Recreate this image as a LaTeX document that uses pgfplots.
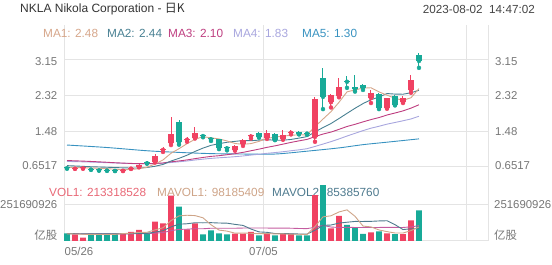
\documentclass[border=0pt]{standalone}
\usepackage{fontspec}
\setmainfont{Liberation Sans}
\newfontfamily\cjk{Noto Sans CJK SC}
\usepackage{pgfplots}
\pgfplotsset{compat=1.18}
\usepackage{pgfplotstable}

\definecolor{cred}{RGB}{240,66,98}
\definecolor{cteal}{RGB}{24,170,152}
\definecolor{ma1}{RGB}{214,166,138}
\definecolor{ma2}{RGB}{72,128,146}
\definecolor{ma3}{RGB}{190,62,128}
\definecolor{ma4}{RGB}{168,166,222}
\definecolor{ma5}{RGB}{56,146,192}
\definecolor{gridc}{RGB}{228,228,228}
\definecolor{labc}{RGB}{118,118,118}
\definecolor{vol1c}{RGB}{232,104,118}
\definecolor{mv1}{RGB}{206,164,136}
\definecolor{mv2}{RGB}{78,122,142}
\definecolor{mv3}{RGB}{196,92,160}

\newcommand\lab{\fontsize{11.4}{13}\selectfont}
\newcommand\leg{\fontsize{11.8}{14}\selectfont}

% red (up) candles: x open high low close
\pgfplotstableread{
x o h l c
1 0.600 0.632 0.596 0.624
2 0.606 0.634 0.600 0.630
7 0.550 0.580 0.545 0.574
8 0.600 0.630 0.595 0.625
9 0.640 0.705 0.632 0.690
11 0.762 0.940 0.745 0.905
12 1.040 1.107 0.992 1.068
13 1.203 1.816 1.155 1.413
15 1.279 1.346 1.231 1.308
16 1.327 1.576 1.308 1.442
21 1.040 1.145 1.021 1.135
22 1.183 1.308 1.135 1.270
23 1.356 1.413 1.308 1.380
25 1.317 1.509 1.298 1.432
27 1.298 1.509 1.279 1.394
28 1.442 1.519 1.404 1.466
31 1.346 2.285 1.231 2.237
33 2.160 2.361 2.036 2.333
34 2.304 2.725 2.275 2.515
38 2.256 2.448 2.141 2.381
40 2.026 2.266 2.007 2.256
42 2.160 2.294 2.141 2.256
43 2.448 2.802 2.381 2.678
}\redc

% teal (down) candles: x open high low close
\pgfplotstableread{
x o h l c
0 0.634 0.640 0.600 0.610
3 0.602 0.610 0.574 0.578
4 0.582 0.588 0.555 0.558
5 0.578 0.585 0.550 0.554
6 0.572 0.578 0.545 0.548
10 0.750 0.772 0.718 0.726
14 1.691 1.739 1.164 1.222
17 1.389 1.404 1.337 1.365
18 1.313 1.346 1.250 1.289
19 1.298 1.308 1.059 1.088
20 1.102 1.135 1.030 1.078
24 1.442 1.461 1.327 1.346
26 1.413 1.432 1.270 1.279
29 1.471 1.490 1.404 1.413
30 1.447 1.471 1.394 1.423
32 2.725 2.965 1.998 2.285
35 2.668 2.773 2.496 2.639
36 2.515 2.802 2.409 2.467
37 2.563 2.591 2.448 2.496
39 2.352 2.381 1.998 2.026
41 2.294 2.323 2.084 2.103
44 3.271 3.319 2.965 3.128
}\tealc

% moving averages MA1..MA4
\pgfplotstableread{
x a b c d
0 0.630 0.672 0.792 0.770
1 0.626 0.664 0.785 0.766
2 0.622 0.655 0.778 0.761
3 0.617 0.646 0.770 0.755
4 0.610 0.640 0.761 0.748
5 0.601 0.634 0.751 0.741
6 0.588 0.627 0.740 0.734
7 0.577 0.620 0.731 0.727
8 0.582 0.616 0.724 0.721
9 0.600 0.617 0.719 0.717
10 0.635 0.628 0.716 0.715
11 0.709 0.657 0.722 0.719
12 0.805 0.700 0.735 0.727
13 0.962 0.780 0.762 0.746
14 1.069 0.843 0.782 0.762
15 1.187 0.916 0.806 0.781
16 1.291 1.005 0.836 0.804
17 1.350 1.083 0.864 0.824
18 1.325 1.148 0.889 0.842
19 1.298 1.187 0.905 0.856
20 1.252 1.220 0.928 0.868
21 1.191 1.241 0.952 0.882
22 1.172 1.261 0.983 0.899
23 1.189 1.257 1.021 0.920
24 1.241 1.270 1.059 0.940
25 1.312 1.282 1.101 0.961
26 1.340 1.266 1.136 0.978
27 1.365 1.269 1.176 0.998
28 1.383 1.286 1.217 1.021
29 1.396 1.318 1.253 1.043
30 1.394 1.353 1.287 1.069
31 1.586 1.463 1.352 1.122
32 1.764 1.565 1.413 1.178
33 1.938 1.660 1.459 1.235
34 2.158 1.777 1.523 1.298
35 2.402 1.898 1.590 1.366
36 2.448 2.017 1.641 1.430
37 2.490 2.127 1.698 1.493
38 2.499 2.219 1.752 1.551
39 2.402 2.280 1.799 1.595
40 2.325 2.363 1.859 1.645
41 2.252 2.350 1.906 1.684
42 2.204 2.347 1.956 1.724
43 2.264 2.381 2.021 1.767
44 2.480 2.440 2.100 1.830
}\mas

% volumes (millions)
\pgfplotstableread{
x v
1 46
2 24
7 52
8 64
9 78
11 136
12 124
13 317
15 82
16 124
21 52
22 52
23 64
25 52
27 52
28 52
31 321
33 89
34 175
38 60
40 54
42 48
43 145
}\redv

\pgfplotstableread{
x v
0 54
3 52
4 52
5 52
6 52
10 59
14 241
17 47
18 74
19 54
20 47
24 40
26 40
29 40
30 40
32 391
35 112
36 96
37 50
39 68
41 48
44 213.3
}\tealv

\pgfplotstableread{
x a b c
0 50 52 52.2
1 49 51 51.8
2 47 50 50.2
3 46 50 50.1
4 45.6 50 49.9
5 45.2 50 49.8
6 46.4 50 49.6
7 52.0 51 49.5
8 54.4 52 49.9
9 59.6 52.6 51.1
10 61.0 53.1 51.3
11 77.8 62.1 55.3
12 92.2 72.1 58.8
13 142.8 98.6 71.9
14 175.4 117.5 81.2
15 180.0 120.5 82.5
16 177.6 127.7 86.0
17 162.2 127.2 85.6
18 113.6 128.2 89.3
19 76.2 125.8 89.2
20 69.2 124.6 88.9
21 54.8 116.2 89.2
22 55.8 109.0 90.6
23 53.8 83.7 91.2
24 51.0 63.6 90.6
25 52.0 60.6 90.6
26 49.6 52.2 90.0
27 49.6 52.7 90.0
28 47.2 50.5 89.4
29 47.2 49.1 87.5
30 44.8 48.4 86.5
31 101.0 75.3 95.8
32 168.8 109.2 109.1
33 176.2 111.7 97.7
34 203.2 125.2 94.4
35 217.6 131.2 95.9
36 172.6 136.8 94.5
37 104.4 136.6 94.7
38 98.6 137.4 94.0
39 77.2 140.2 94.7
40 65.6 141.6 95.0
41 56.0 114.3 94.8
42 55.6 80.0 94.6
43 72.6 85.6 98.7
44 98.2 85.4 107.3
}\mavol

\pgfplotsset{chartbase/.style={scale only axis, width=424pt, xmin=-0.375, xmax=52.625, hide axis, clip=false, anchor=south west}}

\begin{document}
\begin{tikzpicture}
\path[use as bounding box] (0,0) rectangle (552pt,265pt);

% header
\node[anchor=west, inner sep=0, text={rgb,255:red,51;green,51;blue,51}, font=\fontsize{12}{14}\selectfont] at (20pt,256pt) {NKLA Nikola Corporation - {\cjk 日K}};
\node[anchor=east, inner sep=0, text={rgb,255:red,68;green,68;blue,68}, font=\fontsize{11.7}{14}\selectfont] at (535pt,256pt) {2023-08-02\ \ 14:47:02};

% vertical grid lines
\draw[gridc, line width=1pt] (64pt,24pt) -- (64pt,240pt);
\draw[gridc, line width=1pt] (263pt,24pt) -- (263pt,240pt);
\draw[gridc, line width=1pt] (466pt,24pt) -- (466pt,240pt);
\draw[gridc, line width=1pt] (488pt,24pt) -- (488pt,240pt);

% MA legend
\node[anchor=west, inner sep=0, text=ma1, font=\leg] at (43pt,232pt) {MA1: 2.48};
\node[anchor=west, inner sep=0, text=ma2, font=\leg] at (107pt,232pt) {MA2: 2.44};
\node[anchor=west, inner sep=0, text=ma3, font=\leg] at (168pt,232pt) {MA3: 2.10};
\node[anchor=west, inner sep=0, text=ma4, font=\leg] at (233pt,232pt) {MA4: 1.83};
\node[anchor=west, inner sep=0, text=ma5, font=\leg] at (302pt,232pt) {MA5: 1.30};

% VOL legend
\node[anchor=west, inner sep=0, text=vol1c, font=\leg] at (49pt,73pt) {VOL1: 213318528};
\node[anchor=west, inner sep=0, text=mv1, font=\leg] at (157pt,73pt) {MAVOL1: 98185409};
\node[anchor=west, inner sep=0, text=mv2, font=\leg] at (272pt,73pt) {MAVOL2: 85385760};

% dates
\node[anchor=west, inner sep=0, text=labc, font=\lab] at (64.5pt,14pt) {05/26};
\node[anchor=center, inner sep=0, text=labc, font=\lab] at (263.5pt,14pt) {07/05};

% ---------- price panel ----------
\begin{axis}[chartbase, at={(64pt,87pt)}, height=153pt, ymin=0.3819, ymax=3.971]
\draw[gridc, line width=1pt] (axis cs:-0.375,0.6517) -- (axis cs:52.625,0.6517);
\draw[gridc, line width=1pt] (axis cs:-0.375,1.48) -- (axis cs:52.625,1.48);
\draw[gridc, line width=1pt] (axis cs:-0.375,2.32) -- (axis cs:52.625,2.32);
\draw[gridc, line width=1pt] (axis cs:-0.375,3.15) -- (axis cs:52.625,3.15);
\node[anchor=east, inner sep=0, text=labc, font=\lab, xshift=-6.5pt, yshift=-2pt] at (axis cs:-0.375,3.15) {3.15};
\node[anchor=east, inner sep=0, text=labc, font=\lab, xshift=-6.5pt] at (axis cs:-0.375,2.32) {2.32};
\node[anchor=east, inner sep=0, text=labc, font=\lab, xshift=-6.5pt] at (axis cs:-0.375,1.48) {1.48};
\node[anchor=east, inner sep=0, text=labc, font=\lab, xshift=-6.5pt, yshift=1pt] at (axis cs:-0.375,0.6517) {0.6517};
\node[anchor=west, inner sep=0, text=labc, font=\lab, xshift=7pt, yshift=-2pt] at (axis cs:52.625,3.15) {3.15};
\node[anchor=west, inner sep=0, text=labc, font=\lab, xshift=7pt] at (axis cs:52.625,2.32) {2.32};
\node[anchor=west, inner sep=0, text=labc, font=\lab, xshift=7pt] at (axis cs:52.625,1.48) {1.48};
\node[anchor=west, inner sep=0, text=labc, font=\lab, xshift=7pt, yshift=1pt] at (axis cs:52.625,0.6517) {0.6517};

% moving averages
\addplot[ma5, line width=0.9pt, smooth] coordinates {(0,1.155) (5,1.097) (10,1.021) (14,0.982) (18,0.954) (22,0.944) (26,0.944) (30,1.011) (34,1.088) (37,1.164) (40,1.222) (44,1.300)};
\addplot[ma4, line width=0.9pt] table[x=x,y=d] {\mas};
\addplot[ma3, line width=0.9pt] table[x=x,y=c] {\mas};
\addplot[ma2, line width=0.9pt] table[x=x,y=b] {\mas};
\addplot[ma1, line width=0.9pt] table[x=x,y=a] {\mas};

% candles: wicks
\addplot[cred, only marks, mark=none, error bars/.cd, y dir=plus, y explicit, error mark=none, error bar style={line width=1pt, color=cred}] table[x=x, y=l, y error plus expr=\thisrow{h}-\thisrow{l}] {\redc};
\addplot[cteal, only marks, mark=none, error bars/.cd, y dir=plus, y explicit, error mark=none, error bar style={line width=1pt, color=cteal}] table[x=x, y=l, y error plus expr=\thisrow{h}-\thisrow{l}] {\tealc};
% candles: bodies
\addplot[cred, only marks, mark=none, error bars/.cd, y dir=plus, y explicit, error mark=none, error bar style={line width=5.6pt, color=cred}] table[x=x, y=o, y error plus expr=\thisrow{c}-\thisrow{o}] {\redc};
\addplot[cteal, only marks, mark=none, error bars/.cd, y dir=plus, y explicit, error mark=none, error bar style={line width=5.6pt, color=cteal}] table[x=x, y=c, y error plus expr=\thisrow{o}-\thisrow{c}] {\tealc};
\end{axis}

% ---------- volume panel ----------
\begin{axis}[chartbase, at={(64pt,24pt)}, height=57pt, ymin=0, ymax=398.5]
\draw[gridc, line width=1pt] (axis cs:-0.375,251.690926) -- (axis cs:52.625,251.690926);
\draw[gridc, line width=1pt] (axis cs:-0.375,0) -- (axis cs:52.625,0);
\node[anchor=east, inner sep=0, text=labc, font=\lab, xshift=-6.5pt] at (axis cs:-0.375,251.690926) {251690926};
\node[anchor=west, inner sep=0, text=labc, font=\lab, xshift=6pt] at (axis cs:52.625,251.690926) {251690926};
\node[anchor=east, inner sep=0, text=labc, font=\lab, xshift=-6.5pt, yshift=6pt] at (axis cs:-0.375,0) {\cjk 亿股};
\node[anchor=west, inner sep=0, text=labc, font=\lab, xshift=6pt, yshift=6pt] at (axis cs:52.625,0) {\cjk 亿股};

\addplot[ybar, bar width=5.6pt, bar shift=0pt, fill=cred, draw=none] table[x=x,y=v] {\redv};
\addplot[ybar, bar width=5.6pt, bar shift=0pt, fill=cteal, draw=none] table[x=x,y=v] {\tealv};
\addplot[mv3, line width=0.9pt] table[x=x,y=c] {\mavol};
\addplot[mv2, line width=0.9pt] table[x=x,y=b] {\mavol};
\addplot[mv1, line width=0.9pt] table[x=x,y=a] {\mavol};
\end{axis}
\end{tikzpicture}
\end{document}
